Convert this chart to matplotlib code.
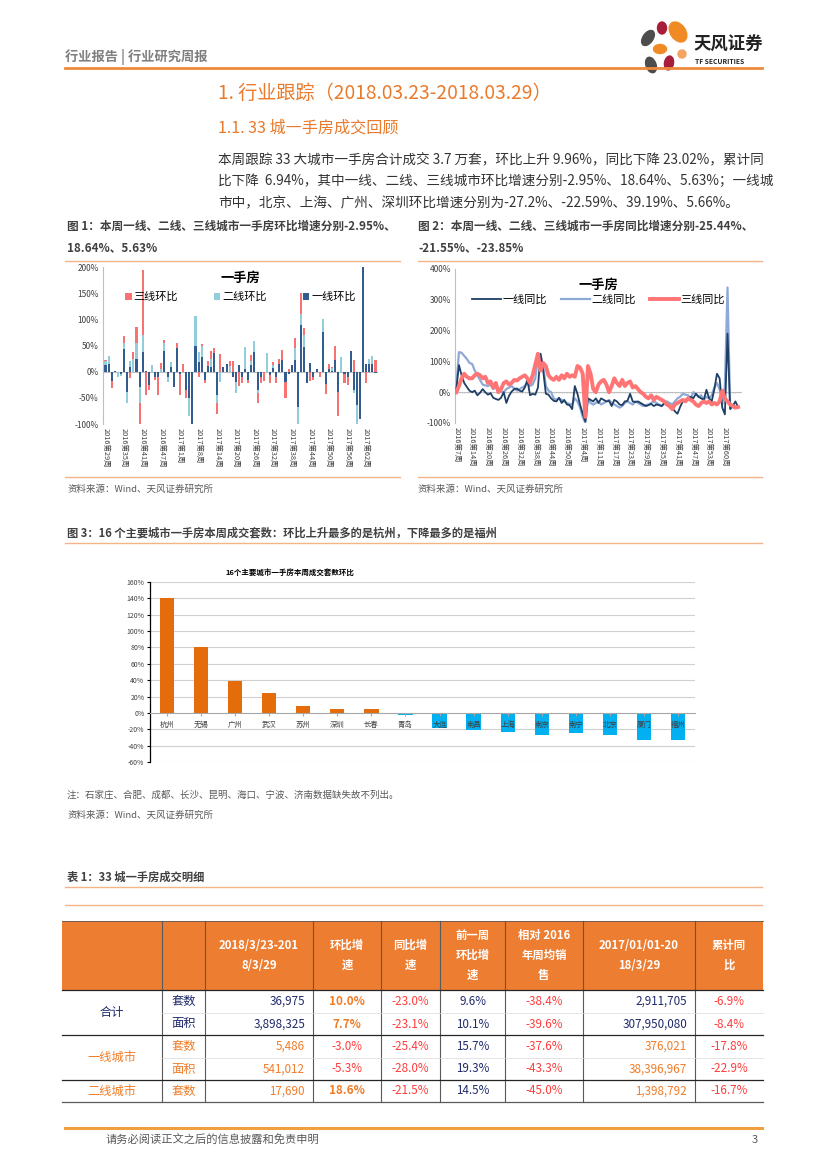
import matplotlib
matplotlib.use('Agg')
import matplotlib.pyplot as plt
from matplotlib.patches import Rectangle, Ellipse
from matplotlib.lines import Line2D
import numpy as np

plt.rcParams['font.family'] = ['Noto Sans CJK SC', 'DejaVu Sans']
plt.rcParams['axes.unicode_minus'] = False

# ---------------- data ----------------
# Chart 1: week-on-week growth (%), stacked bars
c1_weeks_2016 = list(range(29, 53))
c1_weeks_2017 = [1] + list(range(3, 66))
tier1_mom = [12, 15, -18, 2, 0, -4, 43, -38, 8, 0, 24, -30, 37, 2, -25, 0, -10, -10, 0, 40,
             -10, 8, -30, 45, -5, 0, -35, -50, -100, 50, 18, 28, -15, 10, 8, 35, -45, 0, 8, 15,
             0, -10, -20, 12, -10, 5, -15, 13, 38, -35, -10, 0, 0, -7, 7, -10, 15, 22, -20, -5,
             13, 23, -68, 90, 47, -22, 17, -10, 5, 0, 75, -23, 5, 2, 23, -38, 0, -5, -10, 40,
             -35, -63, -90, 200, 15, 15, 15, -3]
tier2_mom = [8, 15, 0, 0, -10, -5, 12, -22, 12, 25, 31, -30, 33, 0, 0, 12, 0, 0, 5, 15,
             -10, 10, 0, 0, 0, 0, 0, -35, 0, 57, 20, 22, 0, 0, 17, 0, -15, -20, 0, 0,
             10, 0, -20, 0, 0, 42, 0, 7, 20, -5, 0, 0, 35, 0, 5, 0, 0, 0, 0, 0,
             0, 22, -32, 20, 23, 0, 0, 0, 0, 0, 25, 0, 0, 5, 0, 0, 28, 0, 0, 0,
             -5, -37, 0, 0, 0, 10, 15, 0]
tier3_mom = [2, 0, -14, 0, 0, 0, 13, 0, -12, 12, 30, -40, 125, -45, -10, 0, -5, -35, 12, 5,
             0, 0, 0, 10, -40, 15, -15, 0, 0, 0, -10, 3, -7, 10, 15, 10, -20, 33, 0, 0,
             10, 20, 0, -28, -12, 0, -7, 12, 0, -20, -12, -18, 0, -15, 6, -12, 10, 20, -30, 5,
             0, 20, 0, 40, 13, 0, -17, -6, 0, -10, 0, -19, 10, 1, 27, -47, 0, -17, -15, 0,
             22, 0, 0, 0, -22, 0, 0, 22]
c1_series_names = ['一线环比', '二线环比', '三线环比']

# Chart 2: year-on-year growth (%), lines
c2_weeks_2016 = [7] + list(range(9, 53))
c2_weeks_2017 = list(range(1, 5)) + list(range(6, 54)) + list(range(55, 66))
tier1_yoy = [10, 88, 55, 30, 17, 5, 0, 5, -10, -2, 10, 0, -8, -3, -18, -22, -25, -18, 0, -35,
             -12, 2, 10, 12, 5, 2, 15, 40, -10, -5, -8, 15, 125, 70, -5, -8, -20, -28, -30, -18,
             -35, -25, -40, -42, -55, 20, -5, -40, -70, -95, -20, -25, -30, -20, -35, -20, -25, -30, -28, -45,
             -25, -30, -40, -42, -30, -28, -5, -30, -32, -30, -35, -40, -45, -42, -38, -45, -40, -42, -45, -35,
             -38, -45, -50, -62, -70, -48, -30, -25, -20, -15, -20, -5, -15, -20, -25, 8, -20, -30, 10, 60,
             45, -50, -72, 190, -55, -45, -30, -48]
tier2_yoy = [20, 130, 128, 118, 108, 95, 92, 70, 55, 40, 25, 22, 20, 25, 10, 15, 5, 2, 0, 10,
             15, 20, 12, 5, 10, 15, 20, 30, 20, 25, 45, 110, 120, 85, 20, 5, 0, -20, -25, -20,
             -25, -30, -35, -38, -40, -20, -30, -50, -80, -100, -20, -35, -40, -35, -30, -40, -35, -30, -25, -35,
             -40, -45, -50, -45, -35, -30, -35, -40, -30, -35, -40, -45, -42, -40, -35, -30, -35, -40, -45, -38,
             -30, -35, -40, -30, -20, -15, -5, -8, -10, -20, 0, -5, -15, -10, -25, -15, -20, -10, 15, 30,
             10, -40, 20, 340, -50, -48, -45, -50]
tier3_yoy = [0, 20, 45, 60, 50, 45, 45, 55, 60, 55, 45, 50, 30, 35, 15, 30, 0, 10, 30, 35,
             25, 30, 40, 38, 45, 50, 55, 45, 30, 55, 90, 125, 70, 95, 85, 55, 45, 40, 50, 40,
             55, 45, 60, 50, 55, 50, 85, 80, 60, -80, 85, 60, 10, 0, 25, 35, 40, 25, 0, 20,
             45, 30, 20, 40, 20, 30, 35, 15, 20, 10, 0, -5, -15, -20, -10, -25, -15, -20, -25, -30,
             -40, -45, -55, -40, -35, -30, -25, -30, -20, -25, -30, -40, -45, -35, -30, -35, -30, -40, -35, -40,
             -30, 5, -20, -30, -40, -45, -50, -48]
c2_series_names = ['一线同比', '二线同比', '三线同比']

# Chart 3: 16 cities week-on-week (%)
cities = ['杭州', '无锡', '广州', '武汉', '苏州', '深圳', '长春', '青岛',
          '大连', '南昌', '上海', '南京', '南宁', '北京', '厦门', '福州']
city_mom = [140, 80, 39, 24, 8, 5, 5, -2, -18, -21, -23, -27, -25, -27, -33, -33]

# Table 1
table_header = ['', '', '2018/3/23-201\n8/3/29', '环比增\n速', '同比增\n速', '前一周\n环比增\n速',
                '相对 2016\n年周均销\n售', '2017/01/01-20\n18/3/29', '累计同\n比']
table_groups = ['合计', '一线城市', '二线城市']
table_rows = [
    ['套数', '36,975', '10.0%', '-23.0%', '9.6%', '-38.4%', '2,911,705', '-6.9%'],
    ['面积', '3,898,325', '7.7%', '-23.1%', '10.1%', '-39.6%', '307,950,080', '-8.4%'],
    ['套数', '5,486', '-3.0%', '-25.4%', '15.7%', '-37.6%', '376,021', '-17.8%'],
    ['面积', '541,012', '-5.3%', '-28.0%', '19.3%', '-43.3%', '38,396,967', '-22.9%'],
    ['套数', '17,690', '18.6%', '-21.5%', '14.5%', '-45.0%', '1,398,792', '-16.7%'],
]

# ---------------- figure helpers ----------------
W, H = 827, 1169
fig = plt.figure(figsize=(W / 100, H / 100), dpi=100)


def fx(x):
    return x / W


def fy(y):
    return 1 - y / H


def ftext(x, y, s, **kw):
    kw.setdefault('va', 'center')
    return fig.text(fx(x), fy(y), s, **kw)


def hline(x0, x1, y, color, lw):
    fig.add_artist(Line2D([fx(x0), fx(x1)], [fy(y), fy(y)], color=color, lw=lw,
                          transform=fig.transFigure))


def vline(x, y0, y1, color, lw):
    fig.add_artist(Line2D([fx(x), fx(x)], [fy(y0), fy(y1)], color=color, lw=lw,
                          transform=fig.transFigure))


def add_axes_px(x0, y0, x1, y1):
    return fig.add_axes([fx(x0), fy(y1), (x1 - x0) / W, (y1 - y0) / H])


ORANGE = '#EE8A3C'
TITLE_OR = '#E97A2B'
DARK = '#404040'
GRAY = '#7F7F7F'

# ---------------- page header ----------------
ftext(65, 57, '行业报告 | 行业研究周报', fontsize=9.5, color=GRAY, weight='bold')
hline(65, 762, 68, ORANGE, 2.0)

axl = add_axes_px(636, 18, 694, 76)
axl.set_xlim(0, 58)
axl.set_ylim(58, 0)
axl.axis('off')
for (cx0, cy0, w, h, ang, col) in [
    (12, 20, 10, 17, 35, '#4D4D4D'), (26, 10, 9, 12, 0, '#A51E3A'),
    (42, 14, 15, 22, -35, '#F08A24'), (24, 31, 13, 9, 0, '#F08A24'),
    (33, 45, 9, 14, 10, '#A51E3A'), (15, 47, 10, 16, -20, '#4D4D4D'),
    (46, 36, 8, 8, 0, '#F4A460')]:
    axl.add_patch(Ellipse((cx0, cy0), w, h, angle=ang, color=col))
ftext(694, 45, '天风证券', fontsize=12.5, color='#222222', weight='bold')
ftext(695, 62, 'TF SECURITIES', fontsize=4.8, color='#222222', weight='bold')

# ---------------- section titles & body ----------------
ftext(218, 93, '1. 行业跟踪（2018.03.23-2018.03.29）', fontsize=13.8, color=TITLE_OR, weight='medium')
ftext(218, 128, '1.1. 33 城一手房成交回顾', fontsize=11.6, color=TITLE_OR, weight='medium')
body = ['本周跟踪 33 大城市一手房合计成交 3.7 万套，环比上升 9.96%，同比下降 23.02%，累计同',
        '比下降  6.94%，其中一线、二线、三线城市环比增速分别-2.95%、18.64%、5.63%；一线城',
        '市中，北京、上海、广州、深圳环比增速分别为-27.2%、-22.59%、39.19%、5.66%。']
for i, line in enumerate(body):
    ftext(218, 159 + 22 * i, line, fontsize=9.8, color='#333333')

# ---------------- figure 1 & 2 captions ----------------
CAP = 8.4
ftext(67, 226, '图 1：本周一线、二线、三线城市一手房环比增速分别-2.95%、', fontsize=CAP, color=DARK, weight='bold')
ftext(67, 248, '18.64%、5.63%', fontsize=CAP, color=DARK, weight='bold')
ftext(418, 226, '图 2：本周一线、二线、三线城市一手房同比增速分别-25.44%、', fontsize=CAP, color=DARK, weight='bold')
ftext(418, 248, '-21.55%、-23.85%', fontsize=CAP, color=DARK, weight='bold')
hline(65, 400, 261, '#F2B58A', 1.0)
hline(418, 762, 261, '#F2B58A', 1.0)
hline(65, 400, 477, '#F2B58A', 1.0)
hline(418, 762, 477, '#F2B58A', 1.0)
ftext(67, 489, '资料来源：Wind、天风证券研究所', fontsize=6.8, color='#595959')
ftext(418, 489, '资料来源：Wind、天风证券研究所', fontsize=6.8, color='#595959')

# ---------------- chart 1 ----------------
ax1 = add_axes_px(103, 267, 378, 424)
c1_labels = ['2016第%d周' % w for w in c1_weeks_2016] + ['2017第%d周' % w for w in c1_weeks_2017]
n1 = len(tier1_mom)
x1 = np.arange(n1)
colors1 = ['#335C8E', '#92CDDC', '#F87272']
pos_base = np.zeros(n1)
neg_base = np.zeros(n1)
bars = []
for vals, col, name in zip([tier1_mom, tier2_mom, tier3_mom], colors1, c1_series_names):
    v = np.array(vals, dtype=float)
    bottom = np.where(v >= 0, pos_base, neg_base)
    b = ax1.bar(x1, v, bottom=bottom, width=0.66, color=col, label=name, zorder=2)
    bars.append(b)
    pos_base += np.where(v > 0, v, 0)
    neg_base += np.where(v < 0, v, 0)
ax1.set_ylim(-100, 200)
ax1.set_xlim(-0.8, n1 - 0.2)
ax1.set_yticks([-100, -50, 0, 50, 100, 150, 200])
ax1.set_yticklabels(['%d%%' % v for v in [-100, -50, 0, 50, 100, 150, 200]], fontsize=6, color=DARK)
ax1.set_xticks(x1[::6])
ax1.set_xticklabels(c1_labels[::6], rotation=-90, fontsize=5.3, color=DARK, va='top', ha='center')
ax1.tick_params(axis='both', length=0, pad=3)
for s in ['top', 'right', 'bottom']:
    ax1.spines[s].set_visible(False)
ax1.spines['left'].set_color('#BFBFBF')
ax1.spines['left'].set_linewidth(0.8)
ax1.axhline(0, color='#BFBFBF', lw=0.8, zorder=1)
ax1.text(0.5, 0.93, '一手房', transform=ax1.transAxes, ha='center', va='center',
         fontsize=9.5, weight='bold', color='black')
ax1.legend(handles=[bars[2], bars[1], bars[0]], loc='center', bbox_to_anchor=(0.5, 0.81),
           ncol=3, frameon=False, fontsize=8, handlelength=0.6, handleheight=0.6,
           handletextpad=0.2, columnspacing=3.2)

# ---------------- chart 2 ----------------
ax2 = add_axes_px(455, 269, 742, 423)
c2_labels = ['2016第%d周' % w for w in c2_weeks_2016] + ['2017第%d周' % w for w in c2_weeks_2017]
n2 = len(tier1_yoy)
x2 = np.arange(n2)
ax2.axhline(0, color='#BFBFBF', lw=0.8, zorder=1)
ax2.vlines(x2, -4, 0, color='#BFBFBF', lw=0.6, zorder=1)
ax2.plot(x2, tier1_yoy, color='#1F3F66', lw=1.3, label=c2_series_names[0], zorder=3)
ax2.plot(x2, tier2_yoy, color='#8EA9D6', lw=1.6, label=c2_series_names[1], zorder=2)
ax2.plot(x2, tier3_yoy, color='#FF7575', lw=2.8, label=c2_series_names[2], zorder=4)
ax2.set_ylim(-100, 400)
ax2.set_xlim(-0.5, n2 + 0.5)
ax2.set_yticks(range(-100, 401, 100))
ax2.set_yticklabels(['%d%%' % v for v in range(-100, 401, 100)], fontsize=6, color=DARK)
ax2.set_xticks(x2[::6])
ax2.set_xticklabels(c2_labels[::6], rotation=-90, fontsize=5.3, color=DARK, va='top', ha='center')
ax2.tick_params(axis='both', length=0, pad=3)
for s in ['top', 'right', 'bottom']:
    ax2.spines[s].set_visible(False)
ax2.spines['left'].set_color('#BFBFBF')
ax2.spines['left'].set_linewidth(0.8)
ax2.text(0.5, 0.9, '一手房', transform=ax2.transAxes, ha='center', va='center',
         fontsize=9.5, weight='bold', color='black')
ax2.legend(loc='center', bbox_to_anchor=(0.5, 0.8), ncol=3, frameon=False, fontsize=8,
           handlelength=2.6, handletextpad=0.2, columnspacing=1.2)

# ---------------- figure 3 ----------------
ftext(67, 533, '图 3：16 个主要城市一手房本周成交套数：环比上升最多的是杭州，下降最多的是福州',
      fontsize=8.1, color=DARK, weight='bold')
hline(65, 762, 543, '#F2B58A', 1.0)
ftext(290, 572, '16个主要城市一手房本周成交套数环比', fontsize=5.4, color='black', weight='bold', ha='center')
ax3 = add_axes_px(150, 582, 695, 762)
ax3.spines['bottom'].set_position(('data', 0))
x3 = np.arange(len(cities))
yt3 = list(range(-60, 161, 20))
for yv in yt3:
    if yv != 0:
        ax3.axhline(yv, color='#D0D0D0', lw=0.8, zorder=0)
cols3 = ['#E46C0A' if v >= 0 else '#00B0F0' for v in city_mom]
ax3.bar(x3, city_mom, width=0.42, color=cols3, zorder=1)
ax3.set_ylim(-60, 160)
ax3.set_xlim(-0.5, len(cities) - 0.5)
ax3.set_yticks(yt3)
ax3.set_yticklabels(['%d%%' % v for v in yt3])
ax3.set_xticks(x3)
ax3.set_xticklabels(cities)
ax3.spines['bottom'].set_color('#A6A6A6')
ax3.spines['top'].set_visible(False)
ax3.spines['right'].set_visible(False)
ax3.spines['left'].set_color('black')
ax3.spines['left'].set_linewidth(0.9)
ax3.tick_params(axis='x', length=2, color='#A6A6A6', pad=4, labelsize=5.3, labelcolor=DARK)
ax3.tick_params(axis='y', length=2, pad=2, labelsize=5, labelcolor=DARK)
ftext(67, 795, '注：石家庄、合肥、成都、长沙、昆明、海口、宁波、济南数据缺失故不列出。', fontsize=6.8, color='#595959')
ftext(67, 815, '资料来源：Wind、天风证券研究所', fontsize=6.8, color='#595959')

# ---------------- table ----------------
ftext(67, 877, '表 1：33 城一手房成交明细', fontsize=8.1, color=DARK, weight='bold')
hline(65, 762, 887, '#F2B58A', 1.0)
hline(65, 762, 905, '#F2B58A', 1.0)

cx = [62, 162, 205, 313, 381, 440, 505, 583, 695, 763]
ry = [921, 990, 1013, 1035, 1058, 1080, 1102]
fig.add_artist(Rectangle((fx(cx[0]), fy(ry[1])), (cx[-1] - cx[0]) / W, (ry[1] - ry[0]) / H,
                         transform=fig.transFigure, facecolor='#ED7D31', edgecolor='none'))
for j in range(2, 9):
    xm = (cx[j] + cx[j + 1]) / 2
    ftext(xm, (ry[0] + ry[1]) / 2, table_header[j], fontsize=8.2, color='white', weight='bold',
          ha='center', linespacing=1.7)
for xe in cx[1:-1]:
    vline(xe, ry[0], ry[-1], '#595959', 0.8)
hline(cx[0], cx[-1], ry[0], '#595959', 0.6)
hline(cx[0], cx[-1], ry[1], '#262626', 0.9)
for yy in [ry[3], ry[5]]:
    hline(cx[0], cx[-1], yy, '#262626', 0.9)
hline(cx[0], cx[-1], ry[-1], '#595959', 0.9)
for yy in [ry[2], ry[4]]:
    hline(cx[1], cx[-1], yy, '#D9D9D9', 0.5)

NAVY = '#1F2A6B'
TOR = '#F07C28'
RED = '#FF3B3B'
row_colors = [
    [NAVY, NAVY, TOR, RED, NAVY, RED, NAVY, RED],
    [NAVY, NAVY, TOR, RED, NAVY, RED, NAVY, RED],
    [TOR, TOR, RED, RED, NAVY, RED, TOR, RED],
    [TOR, TOR, RED, RED, NAVY, RED, TOR, RED],
    [TOR, TOR, TOR, RED, NAVY, RED, TOR, RED],
]
group_colors = [NAVY, TOR, TOR]
group_rows = [(0, 2), (2, 4), (4, 5)]
for g, (r0, r1) in enumerate(group_rows):
    ftext((cx[0] + cx[1]) / 2, (ry[1 + r0] + ry[1 + r1]) / 2, table_groups[g], fontsize=8.8,
          color=group_colors[g], ha='center')
for r, row in enumerate(table_rows):
    yc = (ry[1 + r] + ry[2 + r]) / 2
    for k, val in enumerate(row):
        j = k + 1
        col = row_colors[r][k]
        bold = (k == 2 and col == TOR)
        if j in (2, 7):
            ftext(cx[j + 1] - 8, yc, val, fontsize=8.4, color=col, ha='right')
        else:
            ftext((cx[j] + cx[j + 1]) / 2, yc, val, fontsize=8.4 if j > 1 else 8.8, color=col,
                  ha='center', weight='bold' if bold else 'normal')

# ---------------- footer ----------------
hline(65, 762, 1128, '#F0A040', 2.2)
ftext(105, 1140, '请务必阅读正文之后的信息披露和免责申明', fontsize=8.1, color='#595959')
ftext(752, 1140, '3', fontsize=8.1, color='#595959')

fig.savefig('out.png', dpi=100)
